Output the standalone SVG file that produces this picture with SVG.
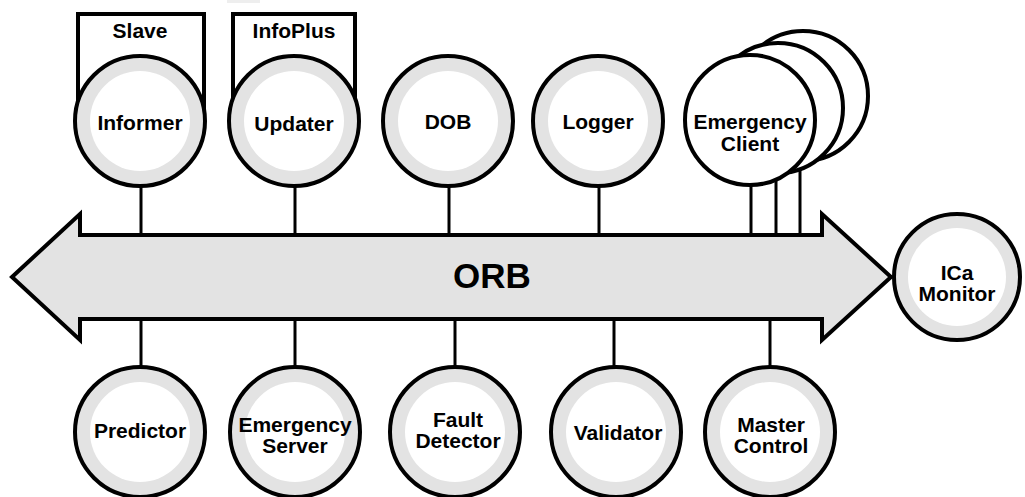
<svg xmlns="http://www.w3.org/2000/svg" width="1025" height="497" viewBox="0 0 1025 497">
  <style>
    .lbl { font-family: "Liberation Sans", Arial, sans-serif; font-weight: bold; font-size: 21px; fill: #000; text-anchor: middle; }
    .orb { font-family: "Liberation Sans", Arial, sans-serif; font-weight: bold; font-size: 35px; fill: #000; text-anchor: middle; }
    .ring { fill: #e3e3e3; stroke: #000; stroke-width: 4; }
    .core { fill: #fff; stroke: none; }
    .plain { fill: #fff; stroke: #000; stroke-width: 4; }
    .box { fill: #fff; stroke: #000; stroke-width: 4; }
    .wire { stroke: #000; stroke-width: 3; fill: none; }
    .bus { fill: #e3e3e3; stroke: #000; stroke-width: 4; stroke-linejoin: miter; }
  </style>

  <rect x="227" y="0" width="33" height="3" fill="#eeeeee"/>

  <!-- connectors: stubs between each service and the bus -->
  <g id="connectors">
    <line class="wire" x1="141" y1="180" x2="141" y2="236"/>
    <line class="wire" x1="295" y1="180" x2="295" y2="236"/>
    <line class="wire" x1="449" y1="180" x2="449" y2="236"/>
    <line class="wire" x1="599" y1="180" x2="599" y2="236"/>
    <line class="wire" x1="751" y1="170" x2="751" y2="236"/>
    <line class="wire" x1="776" y1="150" x2="776" y2="236"/>
    <line class="wire" x1="800" y1="140" x2="800" y2="236"/>
    <line class="wire" x1="141" y1="318" x2="141" y2="372"/>
    <line class="wire" x1="295" y1="318" x2="295" y2="372"/>
    <line class="wire" x1="455" y1="318" x2="455" y2="372"/>
    <line class="wire" x1="614" y1="318" x2="614" y2="372"/>
    <line class="wire" x1="770" y1="318" x2="770" y2="372"/>
  </g>

  <!-- ORB bus: double-headed block arrow -->
  <g id="orb">
    <polygon class="bus" points="12,277 80,214 80,235 822,235 822,214 891,277 822,340 822,319 80,319 80,340"/>
    <text class="orb" x="492" y="288">ORB</text>
  </g>

  <g id="slave">
    <rect class="box" x="78" y="14" width="126" height="100"/>
    <text class="lbl" x="140" y="38">Slave</text>
  </g>
  <g id="infoplus">
    <rect class="box" x="233" y="14" width="122" height="100"/>
    <text class="lbl" x="294" y="38">InfoPlus</text>
  </g>

  <g id="informer">
    <circle class="ring" cx="140" cy="121" r="65"/>
    <circle class="core" cx="140" cy="121" r="50"/>
    <text class="lbl" x="140" y="130">Informer</text>
  </g>
  <g id="updater">
    <circle class="ring" cx="294" cy="121" r="65"/>
    <circle class="core" cx="294" cy="121" r="50"/>
    <text class="lbl" x="294" y="131">Updater</text>
  </g>
  <g id="dob">
    <circle class="ring" cx="448" cy="121" r="65"/>
    <circle class="core" cx="448" cy="121" r="50"/>
    <text class="lbl" x="448" y="129">DOB</text>
  </g>
  <g id="logger">
    <circle class="ring" cx="598" cy="121" r="65"/>
    <circle class="core" cx="598" cy="121" r="50"/>
    <text class="lbl" x="598" y="129">Logger</text>
  </g>

  <!-- stacked client instances -->
  <g id="emergency-client">
    <circle class="plain" cx="803" cy="96" r="65"/>
    <circle class="plain" cx="778" cy="108" r="65"/>
    <circle class="plain" cx="750" cy="120" r="65"/>
    <text class="lbl" x="750" y="129">Emergency</text>
    <text class="lbl" x="750" y="151">Client</text>
  </g>

  <g id="ica-monitor">
    <circle class="ring" cx="957" cy="277" r="63"/>
    <circle class="core" cx="957" cy="277" r="49"/>
    <text class="lbl" x="957" y="280">ICa</text>
    <text class="lbl" x="957" y="301">Monitor</text>
  </g>

  <g id="predictor">
    <circle class="ring" cx="140" cy="432" r="65"/>
    <circle class="core" cx="140" cy="432" r="50"/>
    <text class="lbl" x="140" y="438">Predictor</text>
  </g>
  <g id="emergency-server">
    <circle class="ring" cx="295" cy="432" r="65"/>
    <circle class="core" cx="295" cy="432" r="50"/>
    <text class="lbl" x="295" y="432">Emergency</text>
    <text class="lbl" x="295" y="453">Server</text>
  </g>
  <g id="fault-detector">
    <circle class="ring" cx="455" cy="432" r="65"/>
    <circle class="core" cx="455" cy="432" r="50"/>
    <text class="lbl" x="458" y="427">Fault</text>
    <text class="lbl" x="458" y="448">Detector</text>
  </g>
  <g id="validator">
    <circle class="ring" cx="616" cy="432" r="65"/>
    <circle class="core" cx="616" cy="432" r="50"/>
    <text class="lbl" x="618" y="440">Validator</text>
  </g>
  <g id="master-control">
    <circle class="ring" cx="770" cy="432" r="65"/>
    <circle class="core" cx="770" cy="432" r="50"/>
    <text class="lbl" x="771" y="432">Master</text>
    <text class="lbl" x="771" y="453">Control</text>
  </g>
</svg>
